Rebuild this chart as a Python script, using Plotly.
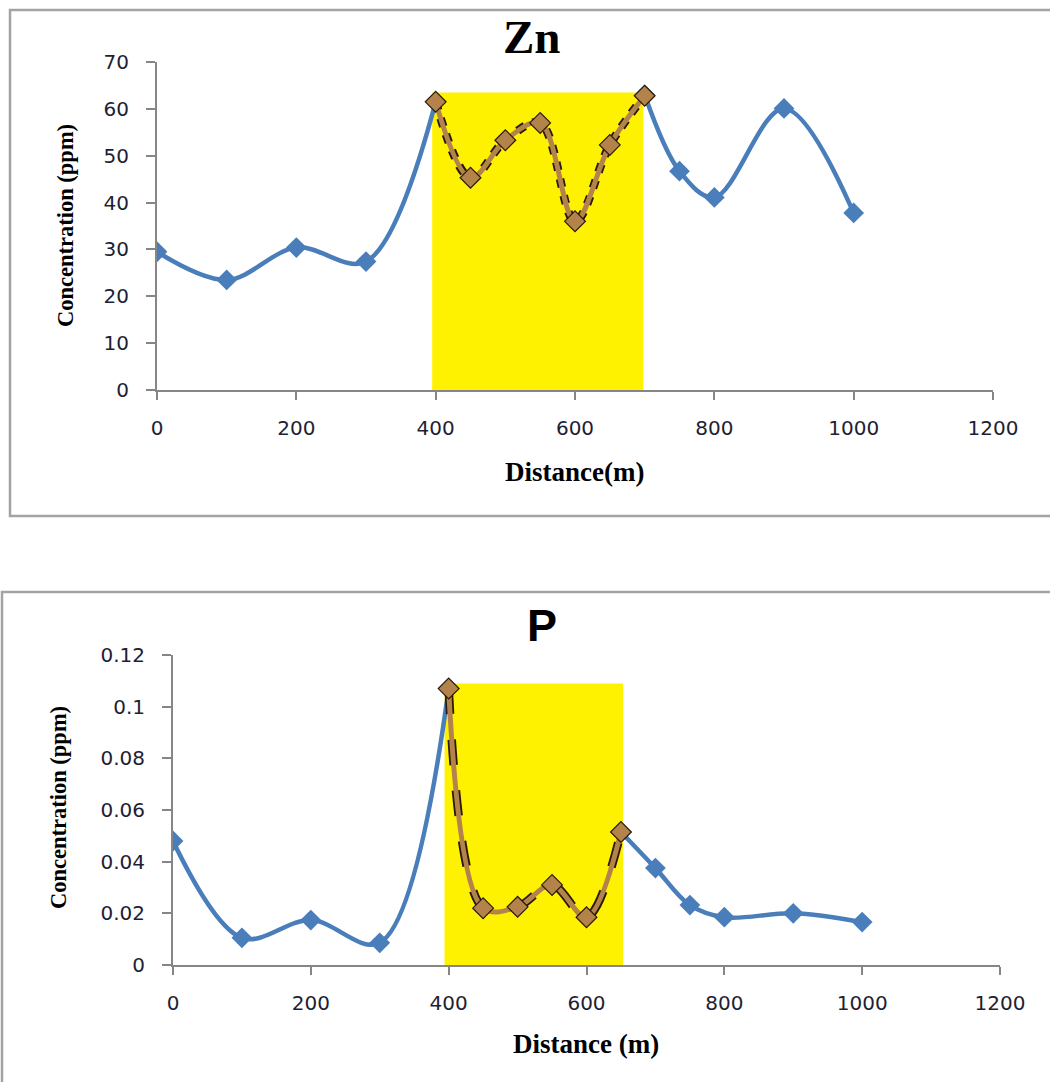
import plotly.graph_objects as go

# ---------------- data ----------------
zn_distance = [0, 100, 200, 300, 400, 450, 500, 550, 600, 650, 700, 750, 800, 900, 1000]
zn_conc = [29.5, 23.5, 30.4, 27.4, 61.5, 45.3, 53.3, 57.0, 36.0, 52.3, 63.0, 46.7, 41.1, 60.1, 37.8]
zn_anom_distance = [400, 450, 500, 550, 600, 650, 700]
zn_anom_conc = [61.5, 45.3, 53.3, 57.0, 36.0, 52.3, 62.8]
zn_highlight_x = [395, 698]
zn_highlight_top = 63.5

p_distance = [0, 100, 200, 300, 400, 450, 500, 550, 600, 650, 700, 750, 800, 900, 1000]
p_conc = [0.048, 0.0105, 0.0174, 0.0086, 0.107, 0.022, 0.0225, 0.031, 0.0185, 0.0515, 0.0375, 0.0232, 0.0185, 0.020, 0.0166]
p_anom_distance = [400, 450, 500, 550, 600, 650]
p_anom_conc = [0.107, 0.022, 0.0225, 0.031, 0.0185, 0.0515]
p_highlight_x = [394, 653]
p_highlight_top = 0.109

x_ticks = [0, 200, 400, 600, 800, 1000, 1200]
zn_y_ticks = [0, 10, 20, 30, 40, 50, 60, 70]
p_y_ticks = [0, 0.02, 0.04, 0.06, 0.08, 0.1, 0.12]
p_y_ticktext = ["0", "0.02", "0.04", "0.06", "0.08", "0.1", "0.12"]

# ---------------- styles ----------------
W, H = 1050, 1082
BLUE = "#4A7EBB"
BROWN = "#B3834B"
AXIS = "#868686"
TICKFONT = dict(family="DejaVu Sans", size=20, color="#1e1e34")
SERIF_B = "Liberation Serif"


def px(x):
    return x / W


def py(y):
    return 1 - y / H


fig = go.Figure()


def add_series(xs, ys, axx, axy, ax_dist, ax_conc, dash):
    a0, a1 = ax_dist[0], ax_dist[-1]
    # blue series: before and after the highlighted anomaly segment
    segs = [
        ([x for x in xs if x <= a0], [y for x, y in zip(xs, ys) if x <= a0]),
        ([x for x in xs if x >= a1], [y for x, y in zip(xs, ys) if x >= a1]),
    ]
    for sx, sy in segs:
        fig.add_trace(go.Scatter(
            x=sx, y=sy, xaxis=axx, yaxis=axy, mode="lines+markers",
            line=dict(color=BLUE, width=4.5, shape="spline", smoothing=1.0),
            marker=dict(symbol="diamond", size=16, color=BLUE),
            showlegend=False, hoverinfo="skip"))
    # dark dashed outline of the anomaly segment
    fig.add_trace(go.Scatter(
        x=ax_dist, y=ax_conc, xaxis=axx, yaxis=axy, mode="lines",
        line=dict(color="#2a1a0a", width=8.5, shape="spline", smoothing=1.0, dash=dash),
        showlegend=False, hoverinfo="skip"))
    fig.add_trace(go.Scatter(
        x=ax_dist, y=ax_conc, xaxis=axx, yaxis=axy, mode="lines+markers",
        line=dict(color=BROWN, width=5, shape="spline", smoothing=1.0),
        marker=dict(symbol="diamond", size=16, color=BROWN,
                    line=dict(color="#2a1a0a", width=1.2)),
        showlegend=False, hoverinfo="skip"))


add_series(zn_distance, zn_conc, "x", "y", zn_anom_distance, zn_anom_conc, "dot")
add_series(p_distance, p_conc, "x2", "y2", p_anom_distance, p_anom_conc, "dash")

common_x = dict(range=[0, 1200], tickvals=x_ticks, showline=True, linecolor=AXIS, linewidth=2,
                ticks="outside", ticklen=8, tickcolor=AXIS, tickwidth=2, showgrid=False,
                zeroline=False, tickfont=TICKFONT, ticklabelstandoff=11, fixedrange=True,
                automargin=False)
common_y = dict(showline=True, linecolor=AXIS, linewidth=2, ticks="outside", ticklen=9,
                tickcolor=AXIS, tickwidth=2, showgrid=False, zeroline=False,
                tickfont=TICKFONT, ticklabelstandoff=13, fixedrange=True, automargin=False)

fig.update_layout(
    width=W, height=H, margin=dict(l=0, r=0, t=0, b=0, pad=0, autoexpand=False),
    paper_bgcolor="white", plot_bgcolor="white",
    xaxis=dict(domain=[px(157), px(993)], anchor="y", **common_x),
    yaxis=dict(domain=[py(390), py(62)], anchor="x", range=[0, 70], tickvals=zn_y_ticks, **common_y),
    xaxis2=dict(domain=[px(173), px(1000)], anchor="y2", **common_x),
    yaxis2=dict(domain=[py(965), py(655)], anchor="x2", range=[0, 0.12], tickvals=p_y_ticks,
                ticktext=p_y_ticktext, **common_y),
)

shapes = [
    # highlight zones
    dict(type="rect", xref="x", yref="y", x0=zn_highlight_x[0], x1=zn_highlight_x[1],
         y0=0, y1=zn_highlight_top, fillcolor="#FFF200", line=dict(width=0), layer="below"),
    dict(type="rect", xref="x2", yref="y2", x0=p_highlight_x[0], x1=p_highlight_x[1],
         y0=0, y1=p_highlight_top, fillcolor="#FFF200", line=dict(width=0), layer="below"),
    # chart frames
    dict(type="rect", xref="paper", yref="paper", x0=px(10), x1=px(1060), y0=py(516), y1=py(10),
         line=dict(color="#A3A3A3", width=2.5), fillcolor="rgba(0,0,0,0)", layer="below"),
    dict(type="rect", xref="paper", yref="paper", x0=px(2), x1=px(1060), y0=py(1095), y1=py(592),
         line=dict(color="#A3A3A3", width=2.5), fillcolor="rgba(0,0,0,0)", layer="below"),
]
fig.update_layout(shapes=shapes)

annotations = [
    dict(text="<b>Zn</b>", x=px(532), y=py(37), font=dict(family=SERIF_B, size=47, color="black")),
    dict(text="<b>P</b>", x=px(542), y=py(625), font=dict(family="Liberation Sans", size=45, color="black")),
    dict(text="<b>Distance(m)</b>", x=px(574), y=py(472), font=dict(family=SERIF_B, size=27, color="black")),
    dict(text="<b>Distance (m)</b>", x=px(586), y=py(1044), font=dict(family=SERIF_B, size=27, color="black")),
    dict(text="<b>Concentration (ppm)</b>", x=px(66), y=py(226), textangle=-90,
         font=dict(family=SERIF_B, size=22.5, color="black")),
    dict(text="<b>Concentration (ppm)</b>", x=px(58), y=py(808), textangle=-90,
         font=dict(family=SERIF_B, size=22.5, color="black")),
]
for a in annotations:
    a.update(xref="paper", yref="paper", showarrow=False, xanchor="center", yanchor="middle")
fig.update_layout(annotations=annotations)

fig.write_html("out.html", config={"displayModeBar": False})
